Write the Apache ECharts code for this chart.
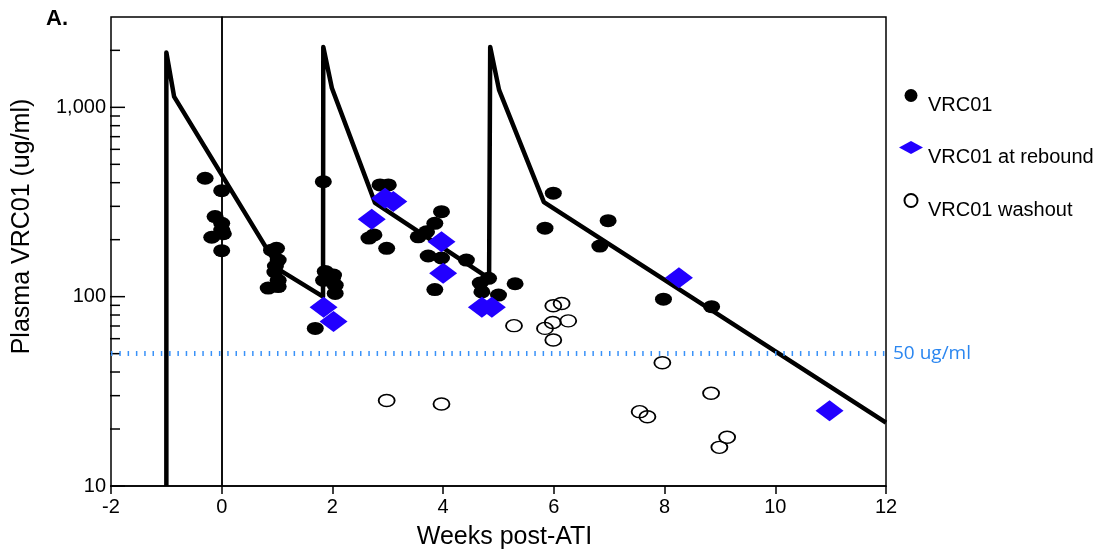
<!DOCTYPE html>
<html>
<head>
<meta charset="utf-8">
<title>Plasma VRC01</title>
<script src="https://cdn.jsdelivr.net/npm/echarts@6/dist/echarts.min.js"></script>
<style>
  html, body { margin: 0; padding: 0; background: #fff; }
  #chart { width: 1110px; height: 550px; }
</style>
</head>
<body>
<div id="chart"></div>
<script>
// Predicted VRC01 concentration (three infusions), weeks vs ug/ml
const modelCurve = [
  [-1.0, 10], [-1.0, 1950], [-0.86, 1140], [1.05, 138], [1.83, 100],
  [1.835, 2085], [1.99, 1265], [2.77, 313], [4.83, 125],
  [4.85, 2085], [5.01, 1236], [5.82, 316], [12, 21.6]
];

// Measured VRC01 levels
const vrc01 = [
  [-0.30, 422], [0.0, 363], [-0.12, 265], [0.0, 244], [0.0, 225], [-0.18, 206], [0.03, 215], [0.0, 175],
  [0.99, 180], [0.90, 176], [1.02, 156], [0.97, 145], [0.96, 135], [1.02, 122], [1.02, 113], [0.84, 111],
  [1.835, 405], [1.87, 136], [2.02, 130], [2.05, 115], [2.05, 104], [1.84, 122], [1.69, 68], [2.0, 125],
  [2.86, 389], [3.01, 389], [2.75, 212], [2.66, 204], [2.98, 180],
  [3.97, 281], [3.85, 244], [3.70, 220], [3.55, 207], [3.73, 164], [3.97, 160], [4.42, 156], [3.85, 109],
  [4.82, 125], [4.67, 118], [4.70, 106], [5.0, 102], [5.30, 117],
  [5.99, 352], [5.84, 230], [6.98, 252], [6.83, 185], [7.98, 97], [8.85, 88.5]
];

// VRC01 levels at the time of viral rebound
const vrc01Rebound = [
  [1.84, 88], [2.02, 74], [2.71, 256], [2.95, 331], [3.10, 318],
  [3.97, 195], [4.0, 133], [4.70, 88], [4.88, 88], [8.26, 126], [10.98, 25]
];

// Levels after washout
const vrc01Washout = [
  [2.98, 28.3], [3.97, 27.1], [5.28, 70.3], [5.99, 89.6], [6.14, 92], [5.98, 73],
  [5.84, 68], [6.26, 74.5], [5.99, 59], [7.96, 44.8], [8.84, 30.9], [7.55, 24.7],
  [7.69, 23.2], [9.13, 18.1], [8.99, 16.0]
];

const threshold = 50;
const thresholdLabel = '50 ug/ml';

const xMin = -2, xMax = 12, xStep = 2;
const yMin = 10, yMax = 3000;
const yMajorTicks = [10, 100, 1000];
const yMinorTicks = [20, 30, 40, 50, 60, 70, 80, 90, 200, 300, 400, 500, 600, 700, 800, 900, 2000];

const FONT = '"Liberation Sans", Arial, sans-serif';

const tickData = yMajorTicks.map(v => [xMin, v, 1]).concat(yMinorTicks.map(v => [xMin, v, 0]));

const chart = echarts.init(document.getElementById('chart'), null, { renderer: 'canvas' });

chart.setOption({
  animation: false,
  backgroundColor: '#fff',
  title: {
    text: 'A.',
    left: 41,
    top: 3,
    textStyle: { fontFamily: FONT, fontSize: 22, fontWeight: 'bold', color: '#000' }
  },
  grid: {
    left: 111, right: 224, top: 17, bottom: 64,
    containLabel: false,
    outerBoundsMode: 'none',
    show: true, borderColor: '#000', borderWidth: 1.5, backgroundColor: 'transparent'
  },
  legend: {
    orient: 'vertical',
    left: 894,
    top: 84,
    itemWidth: 24,
    itemHeight: 13,
    itemGap: 26,
    itemTextGap: 3,
    formatter: name => '{t|' + name + '}',
    textStyle: {
      fontFamily: FONT, fontSize: 20, color: '#000',
      rich: { t: { fontFamily: FONT, fontSize: 20, color: '#000', padding: [19, 0, 0, 0] } }
    },
    data: ['VRC01', 'VRC01 at rebound', 'VRC01 washout']
  },
  xAxis: {
    type: 'value',
    min: xMin, max: xMax, interval: xStep,
    name: 'Weeks post-ATI',
    nameLocation: 'middle',
    nameGap: 39,
    nameTextStyle: { fontFamily: FONT, fontSize: 25, color: '#000', padding: [0, 0, 0, 12] },
    axisLine: { lineStyle: { color: '#000', width: 1.5 } },
    axisTick: { show: true, inside: false, length: 8, lineStyle: { color: '#000', width: 1.5 } },
    axisLabel: { fontFamily: FONT, fontSize: 20, color: '#000', margin: 11 },
    splitLine: { show: false }
  },
  yAxis: {
    type: 'log',
    logBase: 10,
    min: yMin, max: yMax,
    name: 'Plasma VRC01 (ug/ml)',
    nameLocation: 'middle',
    nameGap: 76,
    nameTextStyle: { fontFamily: FONT, fontSize: 25, color: '#000', padding: [0, 0, 0, 50] },
    axisLine: { lineStyle: { color: '#000', width: 1.5 } },
    axisTick: { show: false },
    axisLabel: {
      fontFamily: FONT, fontSize: 20, color: '#000', margin: 5,
      formatter: function (v) {
        const hit = yMajorTicks.find(t => Math.abs(v - t) / t < 1e-6);
        return hit ? hit.toLocaleString('en-US') : '';
      }
    },
    splitLine: { show: false }
  },
  series: [
    {
      // inward y-axis ticks, log-spaced minor ticks
      type: 'custom',
      name: 'yTicks',
      silent: true,
      clip: false,
      z: 1,
      data: tickData,
      encode: { x: 0, y: 1 },
      renderItem: function (params, api) {
        const p = api.coord([api.value(0), api.value(1)]);
        const len = api.value(2) ? 14 : 9;
        return {
          type: 'line',
          shape: { x1: p[0] - 1, y1: p[1], x2: p[0] + len, y2: p[1] },
          style: { stroke: '#000', lineWidth: 1.5 }
        };
      }
    },
    {
      name: 'VRC01',
      type: 'scatter',
      z: 2,
      symbol: 'circle',
      symbolSize: [17, 13],
      itemStyle: { color: '#000', opacity: 1 },
      data: vrc01
    },
    {
      name: 'model',
      type: 'line',
      z: 3,
      showSymbol: false,
      symbol: 'none',
      lineStyle: { color: '#000', width: 4.5, join: 'round', cap: 'butt' },
      data: modelCurve,
      markLine: {
        silent: true,
        symbol: ['none', 'none'],
        animation: false,
        data: [
          {
            xAxis: 0,
            lineStyle: { color: '#000', width: 1.5, type: 'solid' },
            label: { show: false }
          },
          {
            yAxis: threshold,
            lineStyle: { color: '#3a92f8', width: 5, type: [1.5, 6.8] },
            label: {
              show: true,
              position: 'end',
              distance: 7,
              formatter: thresholdLabel,
              fontFamily: '"Open Sans", sans-serif',
              fontSize: 19,
              color: '#2a86f0'
            }
          }
        ]
      }
    },
    {
      name: 'VRC01 at rebound',
      type: 'scatter',
      z: 4,
      symbol: 'diamond',
      symbolSize: [28, 21],
      itemStyle: { color: '#2200ff', opacity: 1 },
      data: vrc01Rebound
    },
    {
      name: 'VRC01 washout',
      type: 'scatter',
      z: 5,
      symbol: 'circle',
      symbolSize: [16, 12],
      itemStyle: { color: 'rgba(255,255,255,0)', borderColor: '#000', borderWidth: 1.6, opacity: 1 },
      data: vrc01Washout
    }
  ]
});
</script>
</body>
</html>
